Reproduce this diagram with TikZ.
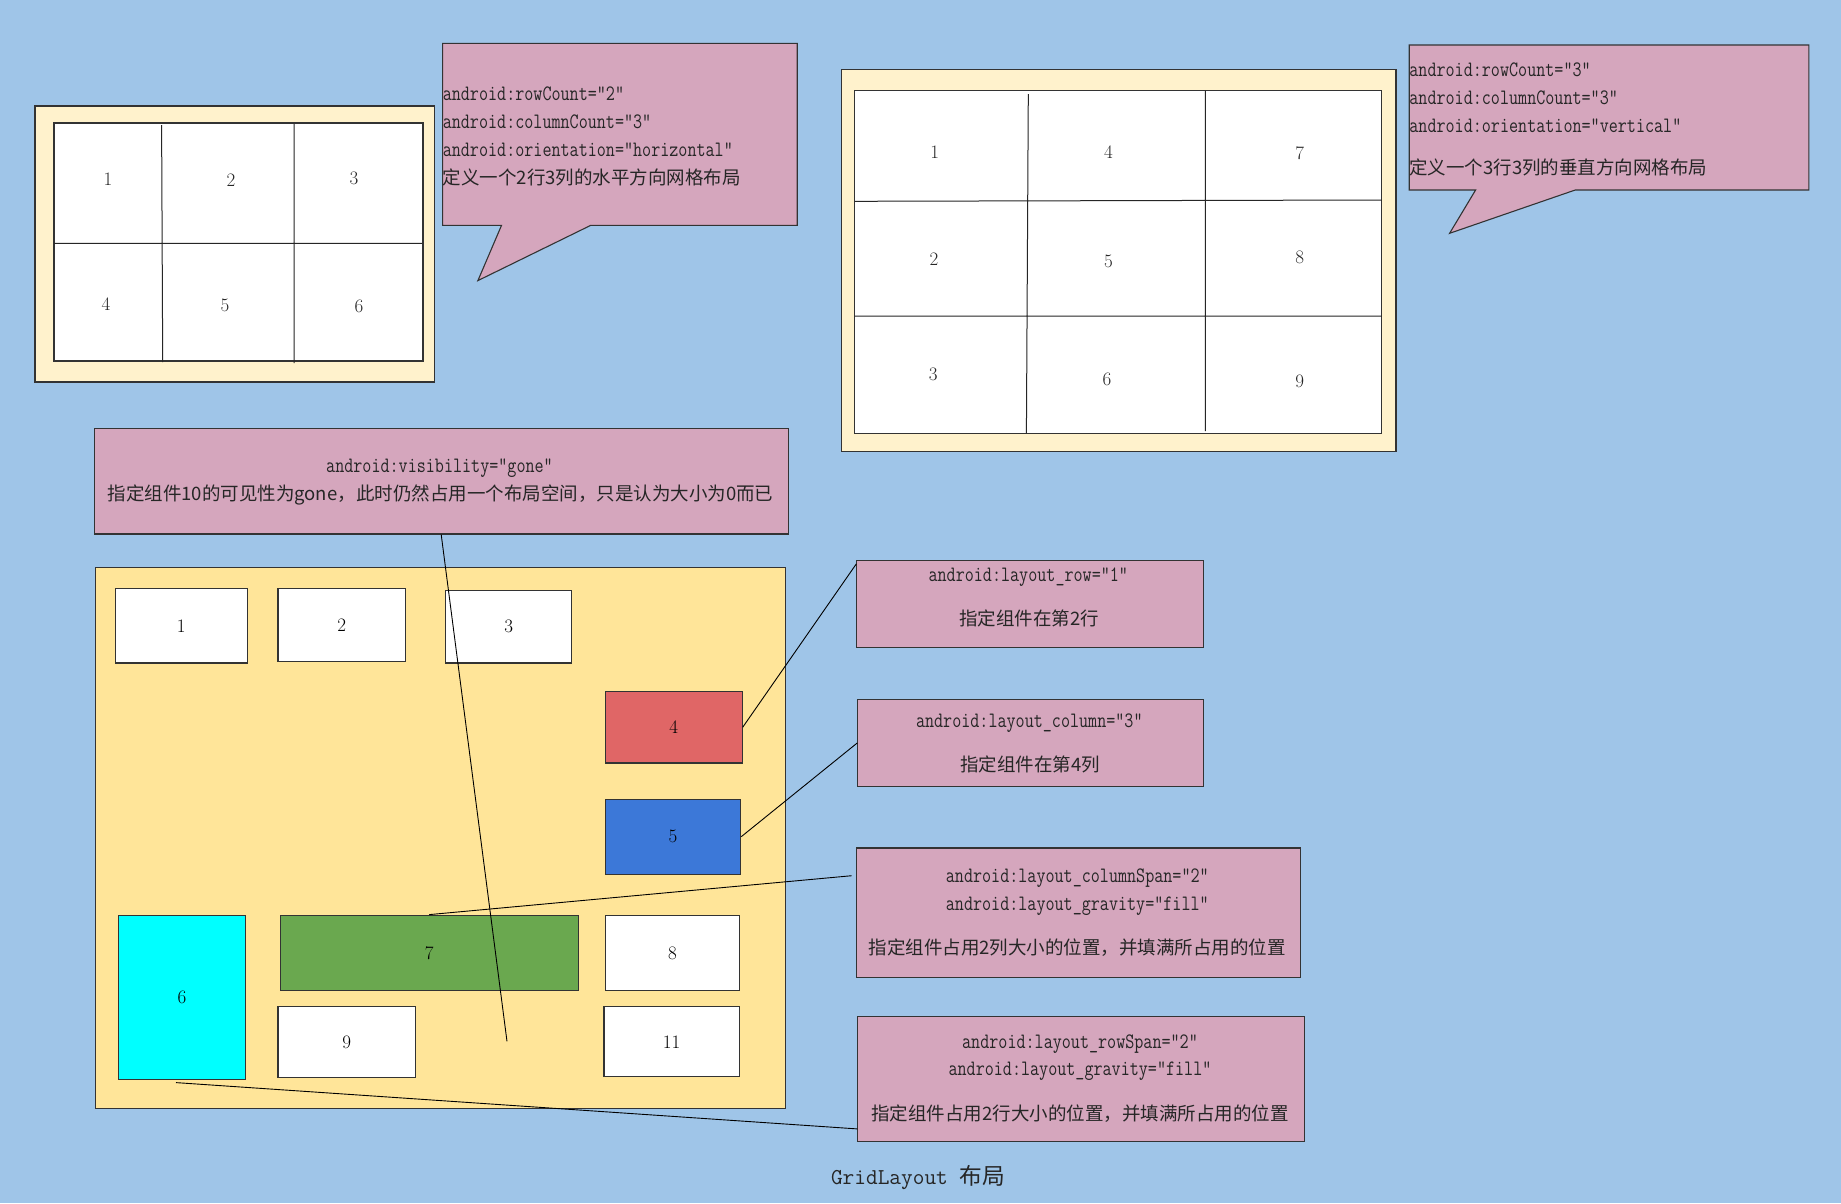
\documentclass[tikz,border=0pt]{standalone}
\usepackage{fontspec}
\newfontfamily\cjk{Noto Sans CJK SC}
\newfontfamily\codefont{Latin Modern Mono}[FakeStretch=0.8]
\usetikzlibrary{calc}
\definecolor{bg}{HTML}{9FC5E8}
\definecolor{calloutpink}{HTML}{D5A6BD}
\definecolor{cream}{HTML}{FFF2CC}
\definecolor{yel}{HTML}{FFE599}
\definecolor{redbox}{HTML}{E06666}
\definecolor{bluebox}{HTML}{3C78D8}
\definecolor{cyanbox}{HTML}{00FFFF}
\definecolor{greenbox}{HTML}{6AA84F}
\newcommand\codefs{\codefont\fontsize{22}{24}\selectfont}
\newcommand\cjkfs{\cjk\fontsize{18.5}{22}\selectfont}
\newcommand\numfs{\fontsize{19}{22}\selectfont}
\begin{document}
\begin{tikzpicture}[x=1pt,y=-1pt,
  frame/.style={draw=black!80, line width=1.1pt},
  box/.style={draw=black!80, line width=1.1pt, inner sep=0pt, anchor=north west},
  txt/.style={inner sep=0pt, text=black!85},
  num/.style={inner sep=0pt, text=black!85, font=\numfs},
  conn/.style={draw=black, line width=0.9pt}]
\fill[bg] (0,0) rectangle (1841,1203);
\useasboundingbox (0,0) rectangle (1841,1203);

% ---------- top-left grid (2 rows, 3 columns, horizontal)
\draw[frame, fill=cream] (35,106) rectangle (434.5,382);
\draw[frame, fill=white] (54,123) rectangle (423,361);
\draw[line width=1pt, black!85] (161.6,125) -- (162.7,362) (294,124) -- (294,363) (54,243.3) -- (422,243.3);
\node[num] (h1) at (108,179) {1};
\node[num] (h2) at (231,180) {2};
\node[num] (h3) at (354,178) {3};
\node[num] (h4) at (106,304) {4};
\node[num] (h5) at (225,305) {5};
\node[num] (h6) at (359,306) {6};

% callout 1
\draw[frame, fill=calloutpink] (442.6,43.4) -- (797.2,43.4) -- (797.2,225.4) -- (590.6,225.4) -- (477.9,280.6) -- (501.5,225.4) -- (442.6,225.4) -- cycle;
\node[txt, anchor=west, font=\codefs] (c1a) at (442.6,94) {android:rowCount="2"};
\node[txt, anchor=west, font=\codefs] (c1b) at (442.6,122) {android:columnCount="3"};
\node[txt, anchor=west, font=\codefs] (c1c) at (442.6,150) {android:orientation="horizontal"};
\node[txt, anchor=west, font=\cjkfs] (c1d) at (442.6,177) {定义一个2行3列的水平方向网格布局};

% ---------- top-right grid (3 rows, 3 columns, vertical)
\draw[frame, fill=cream] (841.5,69.7) rectangle (1396,451.7);
\draw[frame, fill=white] (854.5,90.7) rectangle (1381.8,433.3);
\draw[line width=1pt, black!85] (1028.3,94) -- (1026.4,433.3) (1205.4,90.7) -- (1205.4,431)
  (854.5,201.3) -- (1381.8,200) (854.5,316) -- (1381.8,316);
\node[num] (v1) at (934.6,152.3) {1};
\node[num] (v4) at (1108.4,151.7) {4};
\node[num] (v7) at (1299.8,153) {7};
\node[num] (v2) at (933.9,259) {2};
\node[num] (v5) at (1108.4,261.7) {5};
\node[num] (v8) at (1299.8,257.3) {8};
\node[num] (v3) at (933.3,374.3) {3};
\node[num] (v6) at (1107,379.3) {6};
\node[num] (v9) at (1299.8,381) {9};

% callout 2
\draw[frame, fill=calloutpink] (1409.2,45) -- (1808.9,45) -- (1808.9,190) -- (1575.2,190) -- (1449.6,233.3) -- (1475.6,190) -- (1409.2,190) -- cycle;
\node[txt, anchor=west, font=\codefs] (c2a) at (1409.2,69.7) {android:rowCount="3"};
\node[txt, anchor=west, font=\codefs] (c2b) at (1409.2,97.7) {android:columnCount="3"};
\node[txt, anchor=west, font=\codefs] (c2c) at (1409.2,125.7) {android:orientation="vertical"};
\node[txt, anchor=west, font=\cjkfs] (c2d) at (1409.2,167.7) {定义一个3行3列的垂直方向网格布局};

% ---------- visibility note
\node[box, fill=calloutpink, minimum width=693.7pt, minimum height=105.8pt] (gone) at (93.8,427.6) {};
\node[txt, font=\codefs] (gonea) at (439.5,467.8) {android:visibility="gone"};
\node[txt, font=\cjkfs] (goneb) at (440.4,495) {指定组件10的可见性为gone，此时仍然占用一个布局空间，只是认为大小为0而已};

% ---------- main grid layout
\node[box, fill=yel, minimum width=690pt, minimum height=540.2pt] (main) at (95.2,567.3) {};
\node[box, fill=white, minimum width=131.8pt, minimum height=74.1pt, font=\numfs] (b1) at (114.9,588.3) {1};
\node[box, fill=white, minimum width=127.6pt, minimum height=72.7pt, font=\numfs] (b2) at (277.4,588.3) {2};
\node[box, fill=white, minimum width=126.3pt, minimum height=72.8pt, font=\numfs] (b3) at (445,589.6) {\raisebox{-4pt}{3}};
\node[box, fill=redbox, minimum width=136.8pt, minimum height=71.4pt, font=\numfs] (b4) at (604.8,691) {4};
\node[box, fill=bluebox, minimum width=135.4pt, minimum height=75pt, font=\numfs] (b5) at (604.8,798.6) {5};
\node[box, fill=cyanbox, minimum width=127.7pt, minimum height=163.9pt, font=\numfs] (b6) at (117.6,914.6) {6};
\node[box, fill=greenbox, minimum width=298pt, minimum height=75.5pt, font=\numfs] (b7) at (279.7,914.6) {7};
\node[box, fill=white, minimum width=134.1pt, minimum height=75.5pt, font=\numfs] (b8) at (604.8,914.6) {8};
\node[box, fill=white, minimum width=137.8pt, minimum height=70.9pt, font=\numfs] (b9) at (277.4,1006.2) {9};
\node[box, fill=white, minimum width=135.5pt, minimum height=70.1pt, font=\numfs] (b11) at (603.4,1006.2) {11};
\coordinate (g10) at (507,1041.4);

% ---------- attribute notes
\node[box, fill=calloutpink, minimum width=346.4pt, minimum height=87.1pt] (row) at (856.3,559.9) {};
\node[txt, font=\codefs] (rowa) at (1028.3,576.8) {android:layout\_row="1"};
\node[txt, font=\cjkfs] (rowb) at (1029.3,618.2) {指定组件在第2行};

\node[box, fill=calloutpink, minimum width=345.4pt, minimum height=87.5pt] (col) at (857.3,698.6) {};
\node[txt, font=\codefs] (cola) at (1029.3,722.7) {android:layout\_column="3"};
\node[txt, font=\cjkfs] (colb) at (1030,764.1) {指定组件在第4列};

\node[box, fill=calloutpink, minimum width=444pt, minimum height=129.8pt] (cs) at (856.3,847.4) {};
\node[txt, font=\codefs] (csa) at (1077.3,878.3) {android:layout\_columnSpan="2"};
\node[txt, font=\codefs] (csb) at (1077.3,906.2) {android:layout\_gravity="fill"};
\node[txt, font=\cjkfs] (csc) at (1077.3,948) {指定组件占用2列大小的位置，并填满所占用的位置};
\coordinate (csend) at (851.7,875.7);

\node[box, fill=calloutpink, minimum width=446.4pt, minimum height=125.1pt] (rs) at (857.3,1015.7) {};
\node[txt, font=\codefs] (rsa) at (1080,1044.4) {android:layout\_rowSpan="2"};
\node[txt, font=\codefs] (rsb) at (1080,1071.5) {android:layout\_gravity="fill"};
\node[txt, font=\cjkfs] (rsc) at (1080,1113.8) {指定组件占用2行大小的位置，并填满所占用的位置};

% ---------- connectors
\draw[conn] (gone.south) -- (g10);
\draw[conn] (b4.east) -- ([yshift=-4pt]row.north west);
\draw[conn] (b5.east) -- (col.west);
\draw[conn] (b7.north) -- (csend);
\draw[conn] ([xshift=-6pt,yshift=-3pt]b6.south) -- ([yshift=13pt]rs.south west);

% ---------- title
\node[txt, font=\ttfamily\fontsize{22.7}{26}\selectfont] (title) at (918,1177.6) {GridLayout {\cjk 布局}};
\end{tikzpicture}
\end{document}
